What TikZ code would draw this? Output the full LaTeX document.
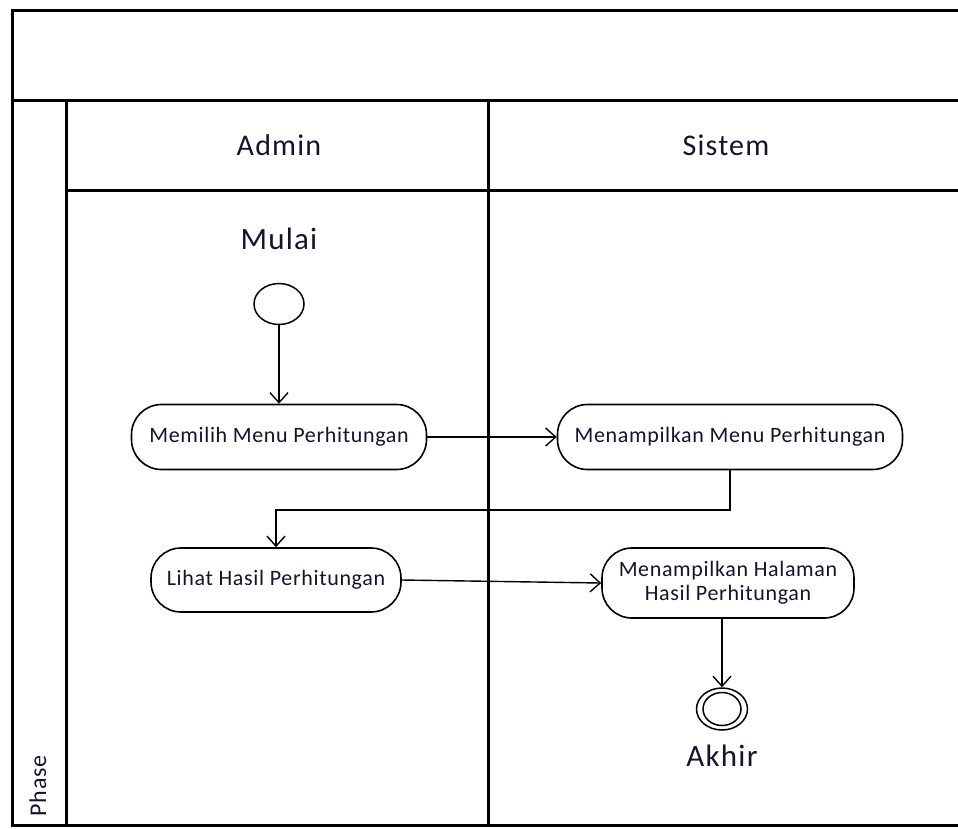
\documentclass[tikz,border=0pt]{standalone}
\usepackage{fontspec}
\setmainfont{Carlito}
\newfontfamily\judulfont[LetterSpace=4]{Carlito}
\newfontfamily\aksifont[LetterSpace=3]{Carlito}
\usetikzlibrary{arrows.meta,shapes.geometric}
\definecolor{tinta}{RGB}{20,20,45}

\begin{document}
\begin{tikzpicture}[
  x=1pt, y=-1pt,
  garis/.style={line width=3pt},
  judul/.style={text=tinta, anchor=base, font=\judulfont\fontsize{30}{34}\selectfont},
  aksi/.style={draw, line width=1.6pt, rounded corners=30pt, minimum height=65pt,
    inner sep=0pt, align=center, text=tinta, font=\aksifont\fontsize{22}{24}\selectfont},
  titik/.style={draw, ellipse, line width=1.5pt, inner sep=0pt},
  panah/.style={line width=1.4pt, -{Straight Barb[length=10pt,width=18pt]}}
]
\useasboundingbox (0,0) rectangle (958,828);

% swimlane frame
\draw[garis] (958,10) -- (12,10) -- (12,825) -- (958,825);
\draw[garis] (12,100) -- (958,100);
\draw[garis] (66,100) -- (66,825);
\draw[garis] (66,190) -- (958,190);
\draw[garis] (488,100) -- (488,825);

\node[judul] (admin) at (279,155) {Admin};
\node[judul] (sistem) at (726,155) {Sistem};
\node[rotate=90, text=tinta, font=\judulfont\fontsize{24}{26}\selectfont] (fase) at (38,786) {Phase};

% activities
\node[judul, font=\judulfont\fontsize{31}{34}\selectfont] (lblmulai) at (279,249) {Mulai};
\node[titik, minimum width=50pt, minimum height=41pt] (mulai) at (279,304) {};
\node[aksi, minimum width=295pt] (memilih) at (279,437) {Memilih Menu Perhitungan};
\node[aksi, minimum width=345pt] (menu) at (730,437) {Menampilkan Menu Perhitungan};
\node[aksi, minimum width=250pt, minimum height=64pt] (lihat) at (276,580) {Lihat Hasil Perhitungan};
\node[aksi, minimum width=252pt, minimum height=70pt] (halaman) at (728,583) {Menampilkan Halaman\\Hasil Perhitungan};
\node[titik, minimum width=51pt, minimum height=42pt] (akhir) at (722,709) {};
\node[titik, minimum width=38pt, minimum height=33pt] (akhirdalam) at (722,709) {};
\node[judul, font=\judulfont\fontsize{31}{34}\selectfont] (lblakhir) at (722,766) {Akhir};

\coordinate (belok) at (730,510);

\draw[panah] (mulai) -- (memilih);
\draw[panah] (memilih) -- (menu);
\draw[panah] (menu.south) -- (belok) -| (lihat.north);
\draw[panah] (lihat.east) -- (halaman.west);
\draw[panah] (akhir |- halaman.south) -- (akhir.north);
\end{tikzpicture}
\end{document}
